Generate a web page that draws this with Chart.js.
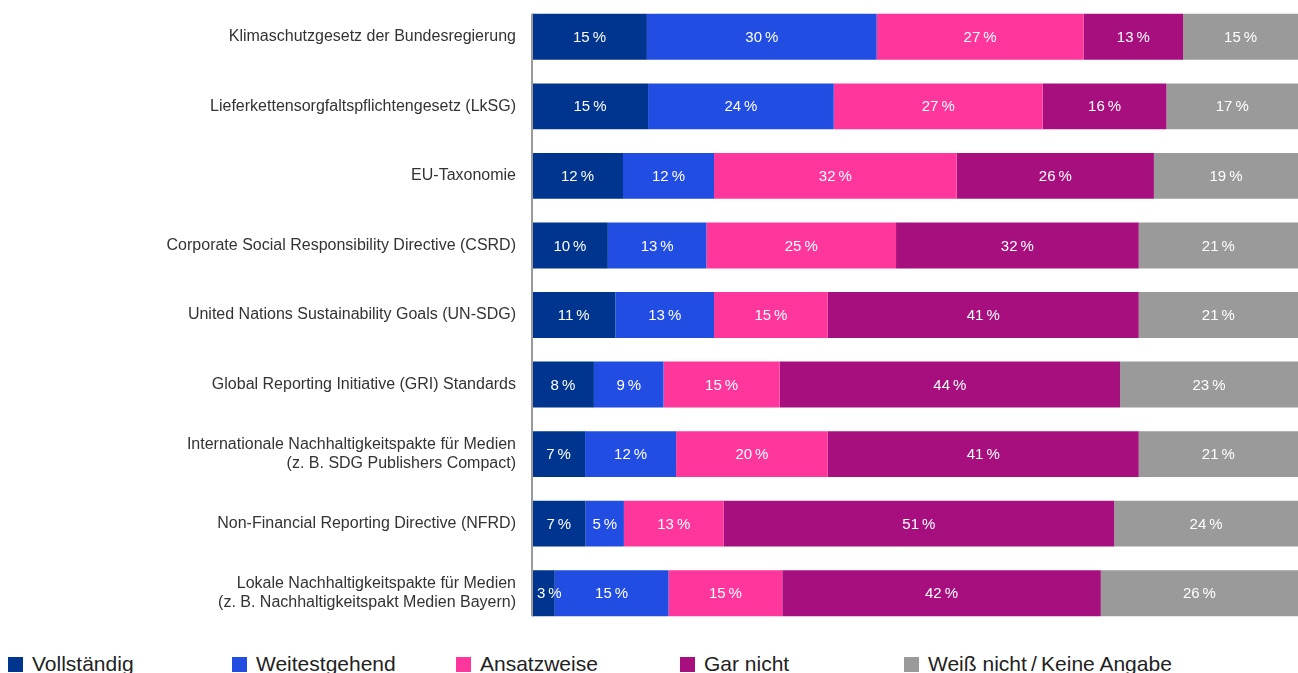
<!DOCTYPE html>
<html lang="de">
<head>
<meta charset="utf-8">
<title>Nachhaltigkeitsstandards</title>
<script src="https://cdn.jsdelivr.net/npm/chart.js@4/dist/chart.umd.min.js"></script>
<style>
    html, body { margin: 0; padding: 0; background: #fff; overflow: hidden; }
    .wrap { position: relative; width: 1298px; height: 673px; }
    .chart-box { position: absolute; left: 0; top: 0; width: 1298px; height: 640px; }
    .legend { position: absolute; left: 8px; top: 652px; display: flex; font-family: "Liberation Sans", Arial, sans-serif; font-size: 21px; color: #222; }
    .legend-item { width: 224px; display: flex; align-items: center; white-space: nowrap; }
    .legend-box { width: 15px; height: 15px; margin-right: 9px; flex: none; }
</style>
</head>
<body>
<div class="wrap">
    <div class="chart-box"><canvas id="chart"></canvas></div>
    <div class="legend" id="legend"></div>
</div>
<script>
// Kategorien (Zeilen) und Anteile je Antwort in Prozent
const categories = [
    'Klimaschutzgesetz der Bundesregierung',
    'Lieferkettensorgfaltspflichtengesetz (LkSG)',
    'EU-Taxonomie',
    'Corporate Social Responsibility Directive (CSRD)',
    'United Nations Sustainability Goals (UN-SDG)',
    'Global Reporting Initiative (GRI) Standards',
    ['Internationale Nachhaltigkeitspakte für Medien', '(z. B. SDG Publishers Compact)'],
    'Non-Financial Reporting Directive (NFRD)',
    ['Lokale Nachhaltigkeitspakte für Medien', '(z. B. Nachhaltigkeitspakt Medien Bayern)']
];

const seriesNames = ['Vollständig', 'Weitestgehend', 'Ansatzweise', 'Gar nicht', 'Weiß nicht\u2009/\u2009Keine Angabe'];
const seriesColors = ['#00358f', '#214de2', '#ff369c', '#a70f7e', '#9a9a9a'];

const vollstaendig  = [15, 15, 12, 10, 11, 8, 7, 7, 3];
const weitestgehend = [30, 24, 12, 13, 13, 9, 12, 5, 15];
const ansatzweise   = [27, 27, 32, 25, 15, 15, 20, 13, 15];
const garNicht      = [13, 16, 26, 32, 41, 44, 41, 51, 42];
const weissNicht    = [15, 17, 19, 21, 21, 23, 21, 24, 26];

const seriesValues = [vollstaendig, weitestgehend, ansatzweise, garNicht, weissNicht];

// Zeilensummen: jede Zeile wird auf volle Breite (100) gestreckt
const rowTotals = categories.map((_, i) => seriesValues.reduce((s, arr) => s + arr[i], 0));

const FONT = '"Liberation Sans", Arial, sans-serif';

// Wertbeschriftungen mittig in die Segmente schreiben
const valueLabels = {
    id: 'valueLabels',
    afterDatasetsDraw(chart) {
        const ctx = chart.ctx;
        ctx.save();
        ctx.font = '15px ' + FONT;
        ctx.fillStyle = '#ffffff';
        ctx.textBaseline = 'middle';
        ctx.textAlign = 'center';
        chart.data.datasets.forEach((ds, di) => {
            const meta = chart.getDatasetMeta(di);
            meta.data.forEach((bar, i) => {
                const text = ds.rawValues[i] + '\u2009%';
                const left = Math.min(bar.x, bar.base);
                const right = Math.max(bar.x, bar.base);
                const w = ctx.measureText(text).width;
                let cx = (left + right) / 2;
                if (w + 8 > right - left) cx = left + 5 + w / 2;
                ctx.fillText(text, cx, bar.y + 1);
            });
        });
        ctx.restore();
    }
};

// senkrechte Achsenlinie nur über die Höhe der Balken
const axisLine = {
    id: 'axisLine',
    afterDatasetsDraw(chart) {
        const meta = chart.getDatasetMeta(0);
        const first = meta.data[0];
        const last = meta.data[meta.data.length - 1];
        const x = chart.chartArea.left;
        const ctx = chart.ctx;
        ctx.save();
        ctx.strokeStyle = '#9a9a9a';
        ctx.lineWidth = 2;
        ctx.beginPath();
        ctx.moveTo(x, first.y - first.height / 2);
        ctx.lineTo(x, last.y + last.height / 2);
        ctx.stroke();
        ctx.restore();
    }
};

new Chart(document.getElementById('chart'), {
    type: 'bar',
    data: {
        labels: categories,
        datasets: seriesNames.map((name, si) => ({
            label: name,
            rawValues: seriesValues[si],
            data: seriesValues[si].map((v, i) => v / rowTotals[i] * 100),
            backgroundColor: seriesColors[si],
            borderWidth: 0,
            barPercentage: 1,
            categoryPercentage: 0.66
        }))
    },
    options: {
        indexAxis: 'y',
        responsive: true,
        maintainAspectRatio: false,
        animation: false,
        layout: { padding: { top: 2, bottom: 12, left: 0, right: 0 } },
        plugins: {
            legend: { display: false },
            tooltip: { enabled: false }
        },
        scales: {
            x: {
                stacked: true,
                min: 0,
                max: 100,
                display: false
            },
            y: {
                stacked: true,
                grid: { display: false, drawTicks: false },
                border: { display: false },
                afterFit(scale) {
                    scale.width = 532;
                    scale.paddingTop = 0;
                    scale.paddingBottom = 0;
                },
                ticks: {
                    padding: 16,
                    color: '#333333',
                    font: { family: FONT, size: 16 }
                }
            }
        }
    },
    plugins: [valueLabels, axisLine]
});

// Legende unter dem Diagramm
const legend = document.getElementById('legend');
seriesNames.forEach((name, si) => {
    const item = document.createElement('div');
    item.className = 'legend-item';
    item.innerHTML = `<span class="legend-box" style="background:${seriesColors[si]}"></span><span>${name}</span>`;
    legend.appendChild(item);
});
</script>
</body>
</html>
